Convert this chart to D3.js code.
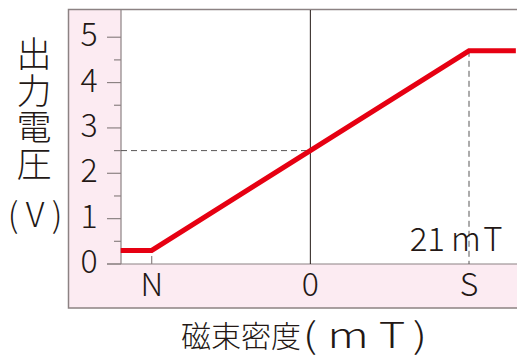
<!DOCTYPE html>
<html>
<head>
<meta charset="utf-8">
<script src="https://cdn.jsdelivr.net/npm/d3@7"></script>
<style>
  html, body { margin: 0; padding: 0; background: #ffffff; }
  svg { display: block; }
  text { font-family: "Noto Sans CJK JP", "Noto Sans", sans-serif; font-weight: 300; fill: #231815; }
</style>
</head>
<body>
<svg id="chart" width="517" height="358"></svg>
<script>
// Hall sensor output: voltage against magnetic flux density
const fieldMT   = [-25.1, -21, 21, 27.2];   // flux density (mT)
const outputV   = [0.3, 0.3, 4.7, 4.7];     // output voltage (V)
const yTicks    = [0, 1, 2, 3, 4, 5];
const yMinor    = [0.5, 1.5, 2.5, 3.5, 4.5];
const xTicks    = [-21, 0, 21];
const xTickText = ["N", "0", "S"];
const midField  = 0;      // zero-field point
const midV      = 2.5;    // output at zero field
const satField  = 21;     // saturation field
const satLabel  = "21mT";
const yTitle    = "出力電圧";
const yUnit     = "(V)";
const xTitleJa  = "磁束密度";
const xTitleU   = "(mT)";

const W = 517, H = 358;
const svg = d3.select("#chart");

const x = d3.scaleLinear().domain([-21, 21]).range([151.7, 469]);
const y = d3.scaleLinear().domain([0, 5.6]).range([264, 10]);

const plotL = 121, plotT = 10, plotB = 264;
const frameL = 68.5, frameB = 308;
const grey = "#8c8283";
const red = "#e60012";

// place each glyph of a string at its own centre (one text chunk per glyph)
const spread = (sel, centres) => sel.attr("x", centres.join(" ")).attr("text-anchor", "middle");

// pink frame behind the axes
svg.append("rect").attr("x", frameL).attr("y", 9.5)
  .attr("width", W - frameL + 2).attr("height", frameB - 9.5)
  .attr("fill", "#fcebf2");
// white plotting area
svg.append("rect").attr("x", plotL).attr("y", plotT)
  .attr("width", W - plotL + 2).attr("height", plotB - plotT)
  .attr("fill", "#ffffff");

// frame border: top, left, bottom
svg.append("path")
  .attr("d", `M${W + 2},9.5 H${frameL} V${frameB} H${W + 2}`)
  .attr("fill", "none").attr("stroke", grey).attr("stroke-width", 1.5);

// y axis with major and minor ticks
const yAxis = svg.append("g").attr("transform", `translate(${plotL},0)`);
yAxis.append("line").attr("x1", 0).attr("x2", 0).attr("y1", plotT).attr("y2", plotB)
  .attr("stroke", grey).attr("stroke-width", 1.2);
yAxis.selectAll("line.major").data(yTicks).join("line").attr("class", "major")
  .attr("x1", -14).attr("x2", 0).attr("y1", d => y(d)).attr("y2", d => y(d))
  .attr("stroke", grey).attr("stroke-width", 1.2);
yAxis.selectAll("line.minor").data(yMinor).join("line").attr("class", "minor")
  .attr("x1", -7).attr("x2", 0).attr("y1", d => y(d)).attr("y2", d => y(d))
  .attr("stroke", grey).attr("stroke-width", 1.2);
yAxis.selectAll("text").data(yTicks).join("text")
  .attr("x", -32).attr("y", d => y(d) - 2.5).attr("dy", "0.36em")
  .attr("text-anchor", "middle").attr("font-size", 32)
  .text(d => d);

// x axis line, extends left past the y axis
svg.append("line").attr("x1", 107).attr("x2", W + 2).attr("y1", plotB).attr("y2", plotB)
  .attr("stroke", grey).attr("stroke-width", 1.2);

// N tick
svg.append("line").attr("x1", x(-21)).attr("x2", x(-21))
  .attr("y1", plotB - 8).attr("y2", plotB)
  .attr("stroke", grey).attr("stroke-width", 1.2);

// x tick labels
svg.selectAll("text.xt").data(xTicks).join("text").attr("class", "xt")
  .attr("x", d => x(d)).attr("y", 296)
  .attr("text-anchor", "middle").attr("font-size", 32)
  .text((d, i) => xTickText[i]);

// zero-field vertical line
svg.append("line").attr("x1", x(midField)).attr("x2", x(midField))
  .attr("y1", plotT).attr("y2", plotB)
  .attr("stroke", "#231815").attr("stroke-width", 1);

// dashed guides
svg.append("line").attr("x1", plotL).attr("x2", x(midField))
  .attr("y1", y(midV)).attr("y2", y(midV))
  .attr("stroke", "#595757").attr("stroke-width", 1).attr("stroke-dasharray", "6,4");
svg.append("line").attr("x1", x(satField)).attr("x2", x(satField))
  .attr("y1", y(outputV[2])).attr("y2", plotB)
  .attr("stroke", "#595757").attr("stroke-width", 1).attr("stroke-dasharray", "6,4");

// saturation label
spread(svg.append("text").attr("y", 251).attr("font-size", 33), [418.5, 436, 466, 493])
  .text(satLabel);

// output curve
const line = d3.line().x(d => x(d[0])).y(d => y(d[1]));
svg.append("path")
  .datum(fieldMT.map((f, i) => [f, outputV[i]]))
  .attr("d", line)
  .attr("fill", "none").attr("stroke", red).attr("stroke-width", 5)
  .attr("stroke-linejoin", "miter");

// y title, set vertically
svg.append("text").attr("x", 34).attr("y", 36)
  .attr("writing-mode", "vertical-rl")
  .attr("font-size", 35).attr("letter-spacing", 1.8)
  .text(yTitle);
spread(svg.append("text").attr("y", 227).attr("font-size", 34), [13, 35, 57])
  .text(yUnit);

// x title: Japanese part, then the unit in a wide-set face
spread(svg.append("text").attr("y", 347).attr("font-size", 30), [196, 226, 256, 286])
  .text(xTitleJa);
const unitCx = 365, unitSx = 1.3;
spread(svg.append("text")
    .attr("transform", `translate(${unitCx},348) scale(${unitSx},1)`)
    .attr("y", 0).attr("font-size", 35),
  [310, 348, 392, 420].map(c => (c - unitCx) / unitSx))
  .text(xTitleU);
</script>
</body>
</html>
